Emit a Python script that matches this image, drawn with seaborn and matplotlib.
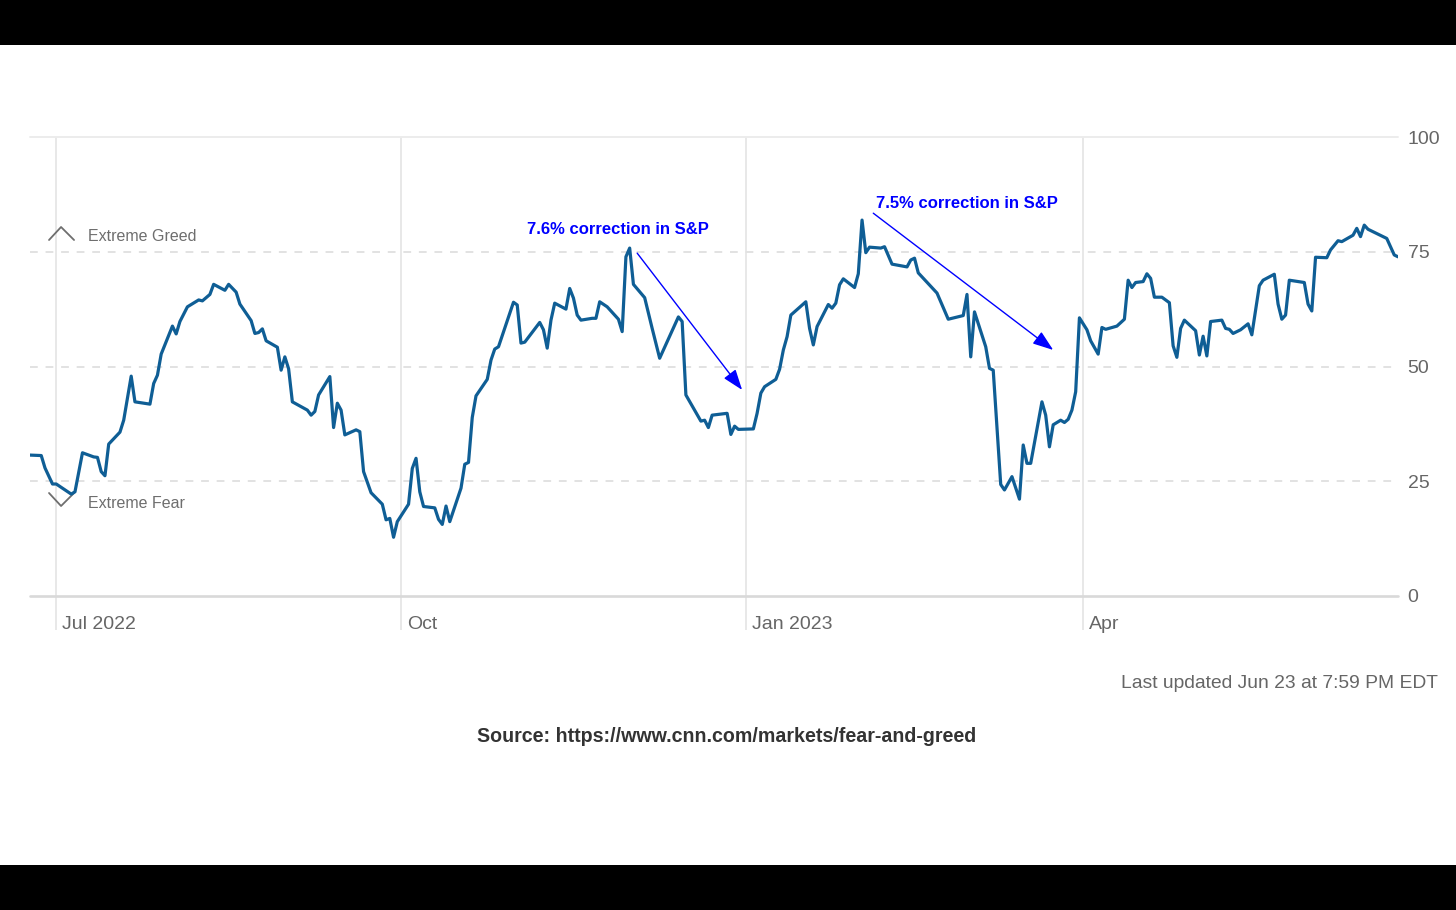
import matplotlib
matplotlib.use("Agg")
import matplotlib.pyplot as plt
import matplotlib.dates as mdates
from matplotlib.transforms import ScaledTranslation
from matplotlib.lines import Line2D
from matplotlib.patches import Rectangle
import seaborn as sns
import pandas as pd

# ---------------- data ----------------
dates = [
    "2022-06-24", "2022-06-27", "2022-06-28", "2022-06-30", "2022-07-01", "2022-07-05",
    "2022-07-06", "2022-07-08", "2022-07-11", "2022-07-12", "2022-07-13", "2022-07-14",
    "2022-07-15", "2022-07-18", "2022-07-19", "2022-07-21", "2022-07-22", "2022-07-26",
    "2022-07-27", "2022-07-28", "2022-07-29", "2022-08-01", "2022-08-02", "2022-08-03",
    "2022-08-05", "2022-08-08", "2022-08-09", "2022-08-11", "2022-08-12", "2022-08-15",
    "2022-08-16", "2022-08-18", "2022-08-19", "2022-08-22", "2022-08-23", "2022-08-24",
    "2022-08-25", "2022-08-26", "2022-08-29", "2022-08-30", "2022-08-31", "2022-09-01",
    "2022-09-02", "2022-09-06", "2022-09-07", "2022-09-08", "2022-09-09", "2022-09-12",
    "2022-09-13", "2022-09-14", "2022-09-15", "2022-09-16", "2022-09-19", "2022-09-20",
    "2022-09-21", "2022-09-23", "2022-09-26", "2022-09-27", "2022-09-28", "2022-09-29",
    "2022-09-30", "2022-10-03", "2022-10-04", "2022-10-05", "2022-10-06", "2022-10-07",
    "2022-10-10", "2022-10-11", "2022-10-12", "2022-10-13", "2022-10-14", "2022-10-17",
    "2022-10-18", "2022-10-19", "2022-10-20", "2022-10-21", "2022-10-24", "2022-10-25",
    "2022-10-26", "2022-10-27", "2022-10-31", "2022-11-01", "2022-11-02", "2022-11-03",
    "2022-11-07", "2022-11-08", "2022-11-09", "2022-11-10", "2022-11-11", "2022-11-14",
    "2022-11-15", "2022-11-16", "2022-11-17", "2022-11-18", "2022-11-21", "2022-11-22",
    "2022-11-23", "2022-11-25", "2022-11-28", "2022-11-29", "2022-11-30", "2022-12-01",
    "2022-12-02", "2022-12-05", "2022-12-07", "2022-12-09", "2022-12-14", "2022-12-15",
    "2022-12-16", "2022-12-20", "2022-12-21", "2022-12-22", "2022-12-23", "2022-12-27",
    "2022-12-28", "2022-12-29", "2022-12-30", "2023-01-03", "2023-01-04", "2023-01-05",
    "2023-01-06", "2023-01-09", "2023-01-10", "2023-01-11", "2023-01-12", "2023-01-13",
    "2023-01-17", "2023-01-18", "2023-01-19", "2023-01-20", "2023-01-23", "2023-01-24",
    "2023-01-25", "2023-01-26", "2023-01-27", "2023-01-30", "2023-01-31", "2023-02-01",
    "2023-02-02", "2023-02-03", "2023-02-06", "2023-02-07", "2023-02-09", "2023-02-13",
    "2023-02-14", "2023-02-15", "2023-02-16", "2023-02-21", "2023-02-24", "2023-02-28",
    "2023-03-01", "2023-03-02", "2023-03-03", "2023-03-06", "2023-03-07", "2023-03-08",
    "2023-03-10", "2023-03-11", "2023-03-13", "2023-03-15", "2023-03-16", "2023-03-17",
    "2023-03-18", "2023-03-21", "2023-03-22", "2023-03-23", "2023-03-24", "2023-03-26",
    "2023-03-27", "2023-03-28", "2023-03-29", "2023-03-30", "2023-03-31", "2023-04-02",
    "2023-04-03", "2023-04-05", "2023-04-06", "2023-04-07", "2023-04-10", "2023-04-12",
    "2023-04-13", "2023-04-14", "2023-04-15", "2023-04-17", "2023-04-18", "2023-04-19",
    "2023-04-20", "2023-04-22", "2023-04-24", "2023-04-25", "2023-04-26", "2023-04-27",
    "2023-04-28", "2023-05-01", "2023-05-02", "2023-05-03", "2023-05-04", "2023-05-05",
    "2023-05-08", "2023-05-09", "2023-05-10", "2023-05-11", "2023-05-13", "2023-05-15",
    "2023-05-16", "2023-05-18", "2023-05-19", "2023-05-22", "2023-05-23", "2023-05-24",
    "2023-05-25", "2023-05-26", "2023-05-30", "2023-05-31", "2023-06-01", "2023-06-02",
    "2023-06-05", "2023-06-06", "2023-06-08", "2023-06-09", "2023-06-12", "2023-06-13",
    "2023-06-14", "2023-06-15", "2023-06-16", "2023-06-21", "2023-06-23", "2023-06-24",
]
index_values = [
    30.7, 30.6, 27.9, 24.4, 24.4, 22.2,
    22.7, 31.2, 30.3, 30.2, 27.1, 26.2,
    33.1, 35.7, 38.3, 47.9, 42.3, 41.8,
    46.3, 48.1, 52.7, 58.8, 57.1, 59.8,
    63.0, 64.5, 64.3, 65.7, 67.9, 66.6,
    67.9, 66.2, 63.6, 60.0, 57.2, 57.4,
    58.2, 55.6, 54.2, 49.2, 52.1, 49.5,
    42.3, 40.5, 39.4, 40.2, 43.8, 47.8,
    36.7, 42.0, 40.5, 35.1, 36.2, 35.8,
    27.1, 22.5, 20.0, 16.6, 16.9, 12.8,
    16.2, 20.0, 27.8, 30.0, 22.7, 19.5,
    19.2, 16.7, 15.6, 19.6, 16.2, 23.5,
    28.7, 29.1, 38.9, 43.6, 47.2, 51.4,
    53.8, 54.3, 64.0, 63.4, 55.1, 55.3,
    59.6, 58.0, 54.0, 60.1, 63.8, 62.5,
    67.0, 64.9, 61.2, 60.1, 60.5, 60.5,
    64.1, 63.0, 60.3, 57.6, 73.9, 75.8,
    67.9, 65.0, 58.3, 51.8, 60.8, 59.8,
    43.8, 38.1, 38.3, 36.7, 39.4, 39.8,
    35.2, 37.0, 36.3, 36.4, 39.8, 44.2,
    45.6, 47.2, 49.4, 53.6, 56.5, 61.2,
    64.1, 58.3, 54.7, 58.7, 63.5, 62.7,
    63.8, 67.8, 69.1, 67.2, 70.2, 81.9,
    74.8, 76.0, 75.8, 76.1, 72.3, 71.7,
    73.2, 73.6, 70.4, 66.0, 60.3, 61.1,
    65.7, 52.1, 61.9, 54.3, 49.6, 49.2,
    24.3, 23.1, 26.0, 21.1, 32.9, 28.9,
    28.9, 42.3, 39.4, 32.5, 37.3, 38.3,
    37.8, 38.5, 40.5, 44.5, 60.6, 58.0,
    55.6, 52.7, 58.5, 58.1, 58.8, 60.3,
    68.8, 67.2, 68.3, 68.5, 70.2, 69.2,
    65.1, 65.1, 63.9, 54.5, 52.0, 58.3,
    60.1, 57.8, 52.5, 56.6, 52.3, 59.8,
    60.1, 58.3, 58.1, 57.2, 58.0, 59.3,
    56.9, 67.6, 68.8, 70.1, 63.6, 60.3,
    61.2, 68.8, 68.3, 63.6, 62.1, 73.8,
    73.7, 75.4, 77.4, 77.2, 78.6, 80.1,
    78.3, 80.8, 79.9, 77.9, 74.3, 73.9,
]

x_tick_dates = ["2022-07-01", "2022-10-01", "2023-01-01", "2023-04-01"]
x_tick_labels = ["Jul 2022", "Oct", "Jan 2023", "Apr"]
y_ticks = [0, 25, 50, 75, 100]

annotation_texts = ["7.6% correction in S&P", "7.5% correction in S&P"]
annotation_text_pos = [("2022-11-28", 79.8), ("2023-03-01", 85.6)]
annotation_arrow_start = [("2022-12-03", 74.7), ("2023-02-04", 83.4)]
annotation_arrow_end = [("2022-12-31", 44.9), ("2023-03-24", 53.6)]

# ---------------- figure ----------------
sns.set_theme(style="white")
plt.rcParams["font.family"] = ["Liberation Sans", "DejaVu Sans"]

fig = plt.figure(figsize=(14.56, 9.10), dpi=100)
fig.patch.set_facecolor("white")
ax = fig.add_axes([30 / 1456, 1 - 596 / 910, 1368 / 1456, 459 / 910])

df = pd.DataFrame({"date": pd.to_datetime(dates), "value": index_values})
sns.lineplot(data=df, x="date", y="value", color="#0f5e95", linewidth=2.3, ax=ax,
             zorder=5)

ax.set_xlim(df["date"].iloc[0], df["date"].iloc[-1])
ax.set_ylim(0, 100)
for s in ax.spines.values():
    s.set_visible(False)
ax.set_xlabel("")
ax.set_ylabel("")

# horizontal grid lines
grid_grey = "#e2e2e2"
for v in y_ticks:
    if v == 0:
        ax.axhline(v, color="#d9d9d9", lw=1.9, zorder=2, clip_on=False)
    elif v == 100:
        ax.axhline(v, color="#ececec", lw=1.4, zorder=1, clip_on=False)
    else:
        ax.axhline(v, color=grid_grey, lw=1.4, ls=(0, (4, 4)), zorder=1)

# y axis on the right
ax.yaxis.tick_right()
ax.set_yticks(y_ticks)
ax.set_yticklabels([str(v) for v in y_ticks])
ax.tick_params(axis="y", length=0, pad=7, labelsize=14, labelcolor="#666666")

# x axis: month ticks with long light grey tick lines
ax.set_xticks(pd.to_datetime(x_tick_dates))
ax.set_xticklabels(x_tick_labels)
ax.tick_params(axis="x", bottom=True, length=24.5, width=1.3, color="#e6e6e6",
               pad=-10, labelsize=14, labelcolor="#666666")
for lbl in ax.get_xticklabels():
    lbl.set_horizontalalignment("left")
    lbl.set_transform(lbl.get_transform() + ScaledTranslation(4.5 / 72, 0, fig.dpi_scale_trans))
ax.xaxis.grid(True, color="#e6e6e6", lw=1.3)
ax.set_axisbelow(True)

# Extreme Greed / Fear markers
ax.add_line(Line2D([0.0139, 0.0227, 0.0322], [0.7756, 0.8039, 0.7756],
                   transform=ax.transAxes, color="#6e6e6e", lw=1.3, clip_on=False))
ax.add_line(Line2D([0.0139, 0.0227, 0.0322], [0.2244, 0.1961, 0.2244],
                   transform=ax.transAxes, color="#6e6e6e", lw=1.3, clip_on=False))
ax.text(0.0424, 0.7835, "Extreme Greed", transform=ax.transAxes, fontsize=11.5,
        color="#6e6e6e", va="center", ha="left")
ax.text(0.0424, 0.2010, "Extreme Fear", transform=ax.transAxes, fontsize=11.5,
        color="#6e6e6e", va="center", ha="left")

# correction annotations
for txt, tp, a0, a1 in zip(annotation_texts, annotation_text_pos,
                           annotation_arrow_start, annotation_arrow_end):
    ax.text(mdates.date2num(pd.Timestamp(tp[0])), tp[1], txt, color="#0000ff",
            fontsize=12, fontweight="bold", ha="center", va="center", zorder=6)
    ax.annotate("", xy=(mdates.date2num(pd.Timestamp(a1[0])), a1[1]),
                xytext=(mdates.date2num(pd.Timestamp(a0[0])), a0[1]),
                arrowprops=dict(arrowstyle="-|>,head_length=0.7,head_width=0.25",
                                color="#0000ff", lw=1.0,
                                mutation_scale=18, shrinkA=0, shrinkB=0),
                zorder=6)

# footer texts
fig.text(1438 / 1456, 1 - 684 / 910, "Last updated Jun 23 at 7:59 PM EDT",
         ha="right", va="center", fontsize=13.9, color="#666666")
fig.text(727 / 1456, 1 - 736 / 910, "Source: https://www.cnn.com/markets/fear-and-greed",
         ha="center", va="center", fontsize=14.15, fontweight="bold", color="#333333")

# black letterbox bars
fig.add_artist(Rectangle((0, 0), 1, 45 / 910, transform=fig.transFigure,
                         facecolor="black", edgecolor="none"))
fig.add_artist(Rectangle((0, 865 / 910), 1, 45 / 910, transform=fig.transFigure,
                         facecolor="black", edgecolor="none"))

fig.savefig("out.png", dpi=100, facecolor="white")
